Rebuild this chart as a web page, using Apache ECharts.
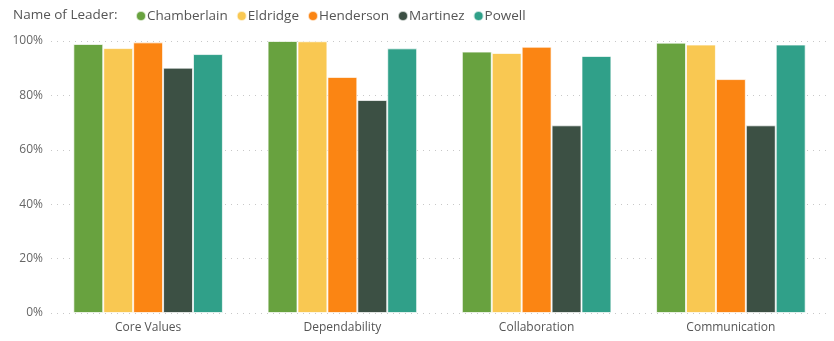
<!DOCTYPE html>
<html><head><meta charset="utf-8">
<script src="https://cdn.jsdelivr.net/npm/echarts@6/dist/echarts.min.js"></script>
<style>html,body{margin:0;padding:0;background:#fff}#c{width:834px;height:341px}</style>
</head><body><div id="c"></div>
<script>
const categories = ['Core Values', 'Dependability', 'Collaboration', 'Communication'];
const leaders = ['Chamberlain', 'Eldridge', 'Henderson', 'Martinez', 'Powell'];
const chamberlain = [98.9, 100, 96.1, 99.4];
const eldridge = [97.4, 99.9, 95.6, 98.7];
const henderson = [99.5, 86.8, 97.9, 86.0];
const martinez = [90.2, 78.3, 69.0, 69.0];
const powell = [95.2, 97.3, 94.5, 98.7];
const yTicks = [0, 20, 40, 60, 80, 100];
const colors = ['#68A23F', '#F9C852', '#FB8513', '#3C5044', '#30A089'];
const seriesData = [chamberlain, eldridge, henderson, martinez, powell];
const font = '"Segoe UI", "Open Sans", sans-serif';

const chart = echarts.init(document.getElementById('c'));
chart.setOption({
  animation: false,
  color: colors,
  title: {
    text: 'Name of Leader:', left: 13, top: 8, padding: 0,
    textStyle: {fontFamily: font, fontSize: 13.5, fontWeight: 'normal', color: '#555'}
  },
  legend: {
    data: leaders, left: 135, top: 9, padding: 0, icon: 'circle', itemWidth: 10, itemHeight: 10, itemGap: 8,
    textStyle: {fontFamily: font, fontSize: 13.5, color: '#555', padding: [0, 0, 0, -4]}
  },
  grid: {left: 51, right: 6, top: 41, bottom: 28, containLabel: false},
  xAxis: {
    type: 'category', data: categories,
    axisLine: {show: false}, axisTick: {show: false},
    axisLabel: {fontFamily: font, fontSize: 12, color: '#555', margin: 9}
  },
  yAxis: {
    type: 'value', min: yTicks[0], max: yTicks[yTicks.length - 1], interval: 20,
    axisLabel: {formatter: '{value}%', fontFamily: font, fontSize: 12, color: '#666', margin: 8},
    splitLine: {lineStyle: {type: [1, 5], color: '#c8c8c8', width: 1}},
    axisLine: {show: false}, axisTick: {show: false}
  },
  series: leaders.map((name, i) => ({
    name, type: 'bar', data: seriesData[i],
    barGap: '0%', barCategoryGap: '23%',
    itemStyle: {color: colors[i], borderColor: 'rgba(255,255,255,0.7)', borderWidth: 1}
  }))
});
</script></body></html>
